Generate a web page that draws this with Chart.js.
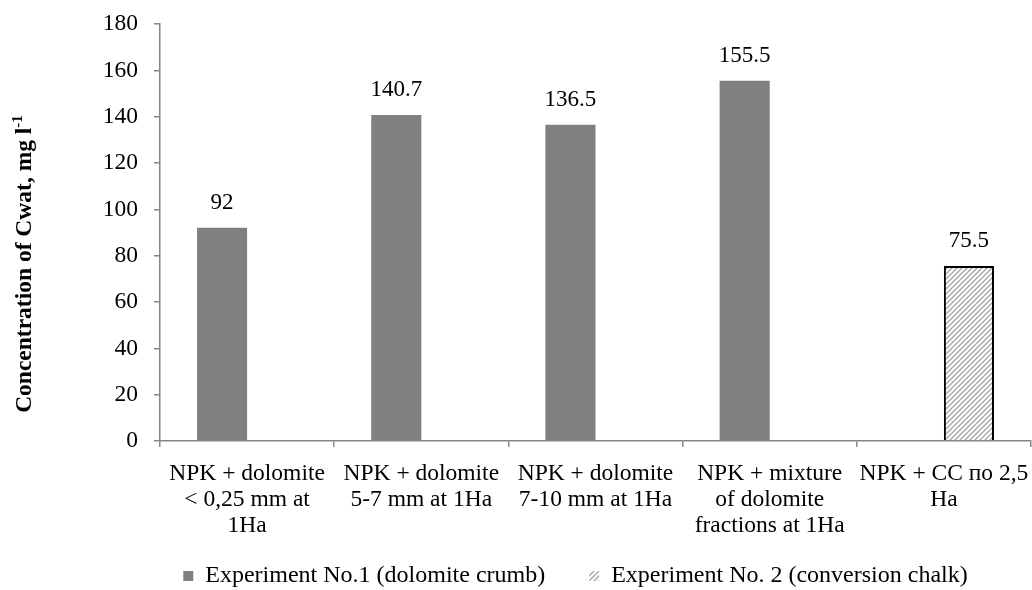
<!DOCTYPE html>
<html>
<head>
<meta charset="utf-8">
<script src="https://cdn.jsdelivr.net/npm/chart.js@4"></script>
<style>
  html, body { margin: 0; padding: 0; background: #fff; }
  #wrap { width: 1032px; height: 590px; }
</style>
</head>
<body>
<div id="wrap"><canvas id="chart" width="1032" height="590"></canvas></div>
<script>
const categories = [
    ["NPK + dolomite", "< 0,25 mm at", "1Ha"],
    ["NPK + dolomite", "5-7 mm at 1Ha"],
    ["NPK + dolomite", "7-10 mm at 1Ha"],
    ["NPK + mixture", "of dolomite", "fractions at 1Ha"],
    ["NPK + CC по 2,5", "Ha"]
];
const exp1Values = [92, 140.7, 136.5, 155.5, null];
const exp2Values = [null, null, null, null, 75.5];
const seriesNames = ["Experiment No.1 (dolomite crumb)", "Experiment No. 2 (conversion chalk)"];
const yTicks = [0, 20, 40, 60, 80, 100, 120, 140, 160, 180];

const FONT = "'Liberation Serif', 'Times New Roman', serif";

// hatched fill for experiment 2
function makeHatch() {
    const c = document.createElement("canvas");
    c.width = 5;
    c.height = 5;
    const g = c.getContext("2d");
    g.fillStyle = "#ffffff";
    g.fillRect(0, 0, 5, 5);
    g.strokeStyle = "#a6a6a6";
    g.lineWidth = 1.4;
    g.beginPath();
    g.moveTo(-1, 6); g.lineTo(6, -1);
    g.moveTo(-1, 1); g.lineTo(1, -1);
    g.moveTo(4, 6); g.lineTo(6, 4);
    g.stroke();
    return g.createPattern(c, "repeat");
}
const hatch = makeHatch();

// value labels above bars
const valueLabels = {
    id: "valueLabels",
    afterDatasetsDraw(chart) {
        const ctx = chart.ctx;
        ctx.save();
        ctx.font = "23px " + FONT;
        ctx.fillStyle = "#000";
        ctx.textAlign = "center";
        ctx.textBaseline = "middle";
        chart.data.datasets.forEach((ds, i) => {
            chart.getDatasetMeta(i).data.forEach((bar, j) => {
                const v = ds.data[j];
                if (v === null || v === undefined) return;
                ctx.fillText(String(v), bar.x, bar.y - 25);
            });
        });
        ctx.restore();
    }
};

// rotated y title with superscript
const yTitle = {
    id: "yTitle",
    afterDraw(chart) {
        const ctx = chart.ctx;
        const main = "Concentration of Cwat, mg l";
        const sup = "-1";
        ctx.save();
        ctx.translate(25, 264);
        ctx.rotate(-Math.PI / 2);
        ctx.fillStyle = "#000";
        ctx.textBaseline = "middle";
        ctx.font = "bold 23.5px " + FONT;
        const w1 = ctx.measureText(main).width;
        ctx.font = "bold 15px " + FONT;
        const w2 = ctx.measureText(sup).width;
        const start = -(w1 + w2) / 2;
        ctx.font = "bold 23.5px " + FONT;
        ctx.textAlign = "left";
        ctx.fillText(main, start, 0);
        ctx.font = "bold 15px " + FONT;
        ctx.fillText(sup, start + w1, -7);
        ctx.restore();
    }
};

// legend sits lower and a bit to the right, like in the original
const placeLegend = {
    id: "placeLegend",
    afterLayout(chart) {
        const lg = chart.legend;
        const x = chart.scales.x;
        x.bottom = 548;
        const h = lg.height;
        lg.top = 576 - 12 - lg.options.labels.padding;
        lg.bottom = lg.top + h;
        lg.left += 60;
        lg.right += 60;
    }
};

new Chart(document.getElementById("chart"), {
    type: "bar",
    data: {
        labels: categories,
        datasets: [
            {
                label: seriesNames[0],
                data: exp1Values,
                backgroundColor: "#808080",
                borderWidth: 0
            },
            {
                label: seriesNames[1],
                data: exp2Values,
                backgroundColor: hatch,
                borderColor: "#000000",
                borderWidth: 2
            }
        ]
    },
    options: {
        responsive: false,
        animation: false,
        devicePixelRatio: 1,
        layout: { padding: { left: 0, right: 1, top: 24, bottom: 0 } },
        datasets: {
            bar: { categoryPercentage: 0.575, barPercentage: 1 }
        },
        scales: {
            x: {
                grid: {
                    display: true,
                    drawOnChartArea: false,
                    drawTicks: true,
                    tickLength: 6,
                    offset: true,
                    color: "#868686",
                    lineWidth: 1.5
                },
                border: { color: "#868686", width: 1.5 },
                ticks: {
                    color: "#000",
                    font: { family: FONT, size: 23.5, lineHeight: 1.1 },
                    maxRotation: 0,
                    autoSkip: false,
                    padding: 14
                },
                afterFit(s) {
                    s.height = 71;
                    s.paddingLeft = 0;
                    s.paddingRight = 0;
                }
            },
            y: {
                min: 0,
                max: 180,
                afterBuildTicks(s) { s.ticks = yTicks.map(v => ({ value: v })); },
                grid: {
                    drawOnChartArea: false,
                    drawTicks: true,
                    tickLength: 6,
                    color: "#868686",
                    lineWidth: 1.5
                },
                border: { color: "#868686", width: 1.5 },
                ticks: {
                    color: "#000",
                    font: { family: FONT, size: 23.5 },
                    padding: 16
                },
                afterFit(s) {
                    s.width = 160;
                    s.paddingTop = 0;
                    s.paddingBottom = 0;
                }
            }
        },
        plugins: {
            legend: {
                position: "bottom",
                labels: {
                    color: "#000",
                    font: { family: FONT, size: 24 },
                    boxWidth: 10,
                    boxHeight: 10,
                    padding: 44,
                    generateLabels(chart) {
                        return chart.data.datasets.map((ds, i) => ({
                            text: ds.label,
                            fillStyle: ds.backgroundColor,
                            strokeStyle: i === 1 ? "#ffffff" : ds.backgroundColor,
                            lineWidth: 0,
                            datasetIndex: i,
                            hidden: false
                        }));
                    }
                }
            },
            tooltip: { enabled: false }
        }
    },
    plugins: [valueLabels, yTitle, placeLegend]
});
</script>
</body>
</html>
